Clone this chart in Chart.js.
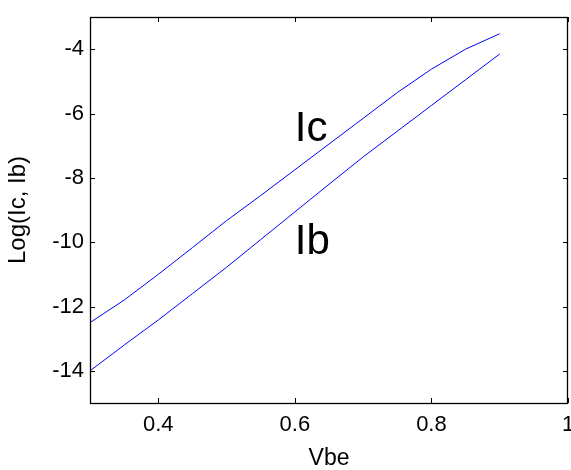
<!DOCTYPE html>
<html>
<head>
<meta charset="utf-8">
<script src="https://cdn.jsdelivr.net/npm/chart.js@4/dist/chart.umd.min.js"></script>
<style>
    html, body { margin: 0; padding: 0; background: #fff; overflow: hidden; }
    #wrap { width: 571px; height: 470px; }
</style>
</head>
<body>
<div id="wrap"><canvas id="chart" width="571" height="470"></canvas></div>
<script>
// Data
const vbe = [0.3, 0.35, 0.4, 0.45, 0.5, 0.55, 0.6, 0.65, 0.7, 0.75, 0.8, 0.85, 0.9];
const logIc = [-12.5, -11.8, -11.0, -10.17, -9.33, -8.55, -7.75, -6.95, -6.15, -5.35, -4.62, -4.0, -3.52];
const logIb = [-14.0, -13.2, -12.42, -11.6, -10.78, -9.92, -9.06, -8.2, -7.35, -6.55, -5.75, -4.95, -4.15];
const xTicks = [0.4, 0.6, 0.8, 1];
const yTicks = [-14, -12, -10, -8, -6, -4];
const curveLabels = [
    { text: 'Ic', x: 0.6, y: -6.5 },
    { text: 'Ib', x: 0.6, y: -10 }
];

const FONT = "'Liberation Sans', Arial, Helvetica, sans-serif";

// box around the plot area + inward ticks on all four sides, like matlab
const boxPlugin = {
    id: 'box',
    afterDatasetsDraw(chart) {
        const { ctx, chartArea: a, scales: { x, y } } = chart;
        const len = 5;
        ctx.save();
        ctx.strokeStyle = '#000';
        ctx.lineWidth = 1;
        ctx.beginPath();
        xTicks.forEach(v => {
            const px = Math.round(x.getPixelForValue(v)) + 0.5;
            ctx.moveTo(px, a.bottom); ctx.lineTo(px, a.bottom - len);
            ctx.moveTo(px, a.top); ctx.lineTo(px, a.top + len);
        });
        yTicks.forEach(v => {
            const py = Math.round(y.getPixelForValue(v)) + 0.5;
            ctx.moveTo(a.left, py); ctx.lineTo(a.left + len, py);
            ctx.moveTo(a.right, py); ctx.lineTo(a.right - len, py);
        });
        ctx.stroke();
        ctx.lineWidth = 1.3;
        ctx.strokeRect(Math.round(a.left) + 0.5, Math.round(a.top) + 0.5,
            Math.round(a.right - a.left) - 1, Math.round(a.bottom - a.top));

        // curve names
        ctx.fillStyle = '#000';
        ctx.font = '42px ' + FONT;
        ctx.textAlign = 'left';
        ctx.textBaseline = 'middle';
        curveLabels.forEach(l => {
            ctx.fillText(l.text, x.getPixelForValue(l.x), y.getPixelForValue(l.y));
        });
        ctx.restore();
    }
};

const line = (data) => ({
    data: vbe.map((v, i) => ({ x: v, y: data[i] })),
    borderColor: '#0000ff',
    borderWidth: 1,
    pointRadius: 0,
    tension: 0,
    fill: false
});

new Chart(document.getElementById('chart'), {
    type: 'line',
    data: {
        datasets: [line(logIc), line(logIb)]
    },
    options: {
        responsive: false,
        animation: false,
        events: [],
        layout: { padding: { left: 0, top: 14, right: 3, bottom: 0 } },
        plugins: {
            legend: { display: false },
            tooltip: { enabled: false }
        },
        scales: {
            x: {
                type: 'linear',
                min: 0.3,
                max: 1,
                grid: { display: false, drawTicks: false },
                border: { display: false },
                afterBuildTicks: (s) => { s.ticks = xTicks.map(v => ({ value: v })); },
                afterFit: (s) => { s.height = 67; s.paddingLeft = 0; s.paddingRight = 0; },
                ticks: {
                    color: '#000',
                    padding: 11,
                    maxRotation: 0,
                    autoSkip: false,
                    font: { family: FONT, size: 22, lineHeight: 1 },
                    callback: (v) => String(v)
                },
                title: {
                    display: true,
                    text: 'Vbe',
                    color: '#000',
                    padding: { top: 0, bottom: 0 },
                    font: { family: FONT, size: 23, lineHeight: 1 }
                }
            },
            y: {
                type: 'linear',
                min: -15,
                max: -3,
                grid: { display: false, drawTicks: false },
                border: { display: false },
                afterBuildTicks: (s) => { s.ticks = yTicks.map(v => ({ value: v })); },
                afterFit: (s) => { s.width = 90; },
                ticks: {
                    color: '#000',
                    padding: 6,
                    autoSkip: false,
                    font: { family: FONT, size: 22, lineHeight: 1 }
                },
                title: {
                    display: true,
                    text: 'Log(Ic, Ib)',
                    color: '#000',
                    padding: { top: 6, bottom: 0 },
                    font: { family: FONT, size: 24, lineHeight: 1 }
                }
            }
        }
    },
    plugins: [boxPlugin]
});
</script>
</body>
</html>
